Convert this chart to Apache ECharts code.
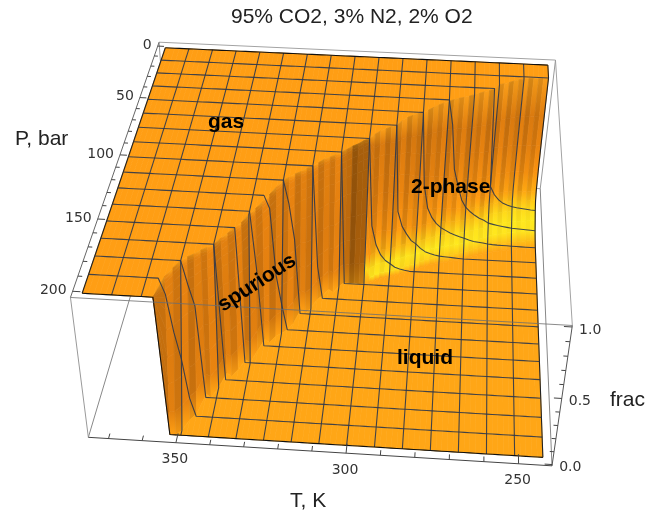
<!DOCTYPE html>
<html><head><meta charset="utf-8">
<style>html,body{margin:0;padding:0;background:#fff}#c{width:657px;height:512px}</style>
<script src="https://cdn.jsdelivr.net/npm/echarts@6/dist/echarts.min.js"></script>
</head><body><div id="c"></div>
<script>
const titleText='95% CO2, 3% N2, 2% O2';
const tFirst=243, tStep=1.63;
// upper (dew) and lower (bubble) pressure of the step, bar, one per temperature column
const dewP=[12.5,12.8,13.2,13.6,14,14.5,15.5,17,18.5,20,
21,25.5,27,28.5,30,31.5,33,34.5,35.5,37,
38.5,40.5,42.5,45,47.5,50,51,53,55,58,
62.5,64,66,68,71,75,77,80,82,85,
87.5,90,92,94,97,100,102,105,107,110,
112.5,118,124,130,135,140,146,150,154,158,
162.5,165,167,170,172,175,180,186,200,200,
200,200,200,200,200,200,200,200,200,200,200];
const bubP=[50,50.5,51,51.5,52,52.5,53.5,54,54.5,55.5,
56.5,57.5,58.5,59.5,61,62.5,63.5,64.5,65.5,66.5,
67,68,69,70.5,72,74,75,76.5,78,79,
80,81,82,84,86,87,87.5,87,87.5,87,
90,95,93,98,101,108,112,110,120,125,
128,130,135,133,141,150,148,155,160,158,
168,175,173,186,190,197,200,200,200,200,
200,200,200,200,200,200,200,200,200,200,200];
// wall brightness of the dark band near 300-305 K, one factor per listed column
const wallDimCols=[35,36,37,38], wallDimBy=[.85,.72,.72,.85];
// repeating brightness of the fine ripples on the wall
const ripple=[1.05,.93,1.02,.9];
// vapour fraction across the two-phase span: position, frac at the cold end, frac at the warm end
const spanPos=[0,.02,.04,.08,.13,.2,.33,.5,.67,.85,1];
const spanFracCold=[1,.72,.5,.3,.16,.105,.07,.045,.02,.006,0];
const spanFracWarm=[1,.9,.82,.68,.55,.42,.28,.15,.07,.02,0];
const spanColdT=243, spanWarmT=295;
const spuriousFromT=299;
const meshEvery=5;
const meshP=[0,12.5,25,37.5,50,62.5,75,87.5,100,112.5,125,137.5,150,162.5,175,187.5,200];
const pMajor=[0,50,100,150,200], pMinor=[10,20,30,40,60,70,80,90,110,120,130,140,160,170,180,190];
const tMajor=[250,300,350], tMinor=[260,270,280,290,310,320,330,340,360,370];
const fMajor=[0,.5,1], fMinor=[.1,.2,.3,.4,.6,.7,.8,.9];
// box ranges
const boxT=[376,240.4], boxP=[-4,204], boxF=[-.01,1.01];
// camera calibration: box corner (X,Y,Z) -> picture pixel
const calib=[[0,0,1,160,43],[1,0,1,556,60],[0,1,1,69,297],[1,1,1,572,325],
[0,1,0,90,438],[1,1,0,552,466],[1,0,0,540,189],[0,0,0,167,169]];
// surface colour against frac
const gasColor=[255,158,20], liquidColor=[255,166,22];
const phaseColors=[[1,[238,150,24]],[.95,[206,116,15]],[.5,[222,125,15]],[.2,[246,148,16]],[.12,[254,185,20]],[.08,[255,215,26]],[.045,[255,232,30]],[.02,[255,228,30]],[.006,[255,192,24]],[0,[255,166,22]]];
const wallColors=[[1,[242,152,22]],[.97,[222,126,16]],[.5,[218,122,15]],[.03,[224,128,16]],[0,[252,158,20]]];

function solveCamera(){
  const n=11,A=Array.from({length:n},()=>new Array(n+1).fill(0));
  const add=(r,b)=>{for(let a=0;a<n;a++){for(let c=0;c<n;c++)A[a][c]+=r[a]*r[c];A[a][n]+=r[a]*b;}};
  calib.forEach(([X,Y,Z,u,v])=>{
    add([X,Y,Z,1,0,0,0,0,-u*X,-u*Y,-u*Z],u);
    add([0,0,0,0,X,Y,Z,1,-v*X,-v*Y,-v*Z],v);
  });
  for(let i=0;i<n;i++){
    let m=i;for(let r=i+1;r<n;r++)if(Math.abs(A[r][i])>Math.abs(A[m][i]))m=r;
    [A[i],A[m]]=[A[m],A[i]];
    for(let r=0;r<n;r++){if(r===i)continue;const f=A[r][i]/A[i][i];for(let c=i;c<=n;c++)A[r][c]-=f*A[i][c];}
  }
  return A.map((row,i)=>row[n]/row[i]);
}
const cam=solveCamera();
const norm=(T,P,f)=>[(boxT[0]-T)/(boxT[0]-boxT[1]),(P-boxP[0])/(boxP[1]-boxP[0]),(f-boxF[0])/(boxF[1]-boxF[0])];
function projN(X,Y,Z){const w=cam[8]*X+cam[9]*Y+cam[10]*Z+1;
  return [(cam[0]*X+cam[1]*Y+cam[2]*Z+cam[3])/w,(cam[4]*X+cam[5]*Y+cam[6]*Z+cam[7])/w];}
const proj=(T,P,f)=>{const n=norm(T,P,f);return projN(n[0],n[1],n[2]);};

const colT=i=>tFirst+i*tStep;
const nCols=dewP.length;
const cummax=a=>{let m=-1;return a.map(v=>(m=Math.max(m,v)));};
const dewM=cummax(dewP), bubM=cummax(bubP);
function columnKnots(i,teeth){
  const d=dewM[i],b=bubM[i],T=colT(i);
  if(d>=200)return [[0,1]].concat(spanPos.map(()=>[200,1]),[[200,1]]);
  const sp=T>=spuriousFromT;
  const td=teeth?dewP[i]-d:0,tb=teeth?bubP[i]-b:0;
  let wm=Math.min(1,(T-spanColdT)/(spanWarmT-spanColdT));wm*=wm;
  return [[0,1]].concat(spanPos.map((s,k)=>{
    const w=sp?1-s:Math.max(0,1-s/.2);
    const fr=spanFracCold[k]+(spanFracWarm[k]-spanFracCold[k])*wm;
    return [d+s*(b-d)+td*w+tb*s,sp?1-s:fr];
  }),[[200,0]]);
}
const knots=dewP.map((_,i)=>columnKnots(i,true));
const smooth=dewP.map((_,i)=>columnKnots(i,false));
const K=knots[0].length;
function fracAt(i,P){
  const q=smooth[i];
  for(let k=0;k<q.length-1;k++){
    if(P<=q[k+1][0]){const a=q[k],b=q[k+1];const w=b[0]>a[0]?(P-a[0])/(b[0]-a[0]):1;return a[1]+(b[1]-a[1])*w;}
  }
  return q[q.length-1][1];
}
function colorFor(f,table){
  for(let r=0;r<table.length-1;r++){
    if(f>=table[r+1][0]){const w=(table[r][0]-f)/(table[r][0]-table[r+1][0]);
      return table[r][1].map((v,j)=>v+(table[r+1][1][j]-v)*w);}
  }
  return table[table.length-1][1];
}
const css=(c,m)=>`rgb(${Math.min(255,c[0]*m)|0},${Math.min(255,c[1]*m)|0},${Math.min(255,c[2]*m)|0})`;
// quads, back to front
const quads=[];
for(let k=0;k<K-1;k++)for(let i=nCols-2;i>=0;i--){
  const T0=colT(i),T1=colT(i+1),a=knots[i],b=knots[i+1];
  const pts=[[T0,a[k][0],a[k][1]],[T1,b[k][0],b[k][1]],[T1,b[k+1][0],b[k+1][1]],[T0,a[k+1][0],a[k+1][1]]];
  const fTop=(a[k][1]+b[k][1])/2,fBot=(a[k+1][1]+b[k+1][1])/2;
  const table=T0>=spuriousFromT?wallColors:phaseColors;
  let cTop,cBot,m=1;
  if(fTop===1&&fBot===1){cTop=cBot=gasColor;}
  else if(fTop===0&&fBot===0){cTop=cBot=liquidColor;}
  else{cTop=colorFor(fTop,table);cBot=colorFor(fBot,table);
    const fade=Math.min(1,(fTop+.02)*4);
    m=1+(ripple[i%ripple.length]-1)*fade;
    const dimAt=wallDimCols.indexOf(i);if(dimAt>=0&&fTop>.02)m*=wallDimBy[dimAt];}
  quads.push({pts,top:css(cTop,m),bot:css(cBot,m)});
}
// mesh lines
const mesh=[];
for(let i=0;i<nCols;i+=meshEvery){
  const edge=i===0||i===nCols-1;
  mesh.push({pts:smooth[i].map(q=>[colT(i),q[0],q[1]]),c:edge?'#222':'rgba(45,55,75,.9)',w:1.1});
}
meshP.forEach((P,j)=>{
  const edge=j===0||j===meshP.length-1;
  const pts=[];for(let i=0;i<nCols;i++)pts.push([colT(i),P,fracAt(i,P)]);
  mesh.push({pts,c:edge?'#111':'rgba(45,55,75,.9)',w:1.1});
});
// box
const axisC='#555';
const nb=(a,b,c='#a3a3a3',w=1)=>({a,b,c,w});
const backBox=[nb([0,0,1],[1,0,1]),nb([1,0,1],[1,1,1]),nb([0,0,1],[0,0,0],'#999'),nb([1,0,1],[1,0,0],'#999'),
nb([0,0,0],[1,0,0],'#999'),nb([0,0,0],[0,1,0],'#888'),nb([1,0,0],[1,1,0],'#888'),nb([0,1,1],[0,1,0],'#999')];
const frontBox=[nb([0,1,1],[1,1,1],'rgba(110,110,110,.8)'),nb([1,1,1],[1,1,0],axisC),nb([0,1,0],[1,1,0],'#444'),nb([0,1,1],[0,0,1],'#666')];
const ticks=[];
const tick=(a,b)=>ticks.push(nb(a,b,'#444'));
pMajor.forEach(P=>{const y=norm(0,P,0)[1];tick([0,y,1],[.016,y,1]);});
pMinor.forEach(P=>{const y=norm(0,P,0)[1];tick([0,y,1],[.009,y,1]);});
tMajor.forEach(T=>{const x=norm(T,0,0)[0];tick([x,1,0],[x,.972,0]);});
tMinor.forEach(T=>{const x=norm(T,0,0)[0];tick([x,1,0],[x,.985,0]);});
fMajor.forEach(f=>{const z=norm(0,0,f)[2];tick([1,1,z],[.984,1,z]);});
fMinor.forEach(f=>{const z=norm(0,0,f)[2];tick([1,1,z],[.991,1,z]);});

const tickFont='14px "DejaVu Sans"',tickColor='#333';
const labels=[];
pMajor.forEach(P=>{const y=norm(0,P,0)[1];const p=projN(0,y,1);labels.push({x:p[0]-6,y:p[1]-1,t:String(P),a:'right'});});
tMajor.forEach(T=>{const x=norm(T,0,0)[0];const p=projN(x,1,0);labels.push({x:p[0]-1,y:p[1]+17,t:String(T),a:'center'});});
fMajor.forEach(f=>{const z=norm(0,0,f)[2];const p=projN(1,1,z);labels.push({x:p[0]+7,y:p[1]+3,t:f.toFixed(1),a:'left'});});

const lineItem=(toPts,st)=>(params,api)=>{
  const it=st[params.dataIndex];
  const pts=toPts(it).map(p=>api.coord(p));
  return {type:'polyline',silent:true,shape:{points:pts},style:{stroke:it.c,lineWidth:it.w,fill:null,lineJoin:'round'}};
};
const segSeries=(arr,z)=>({type:'custom',coordinateSystem:'cartesian2d',silent:true,z,animation:false,clip:false,
  data:arr.map((_,i)=>[i]),renderItem:lineItem(s=>[projN(...s.a),projN(...s.b)],arr)});

const chart=echarts.init(document.getElementById('c'),null,{renderer:'canvas'});
chart.setOption({
  animation:false,
  title:{text:titleText,left:226,top:2,textStyle:{fontFamily:'Liberation Sans',fontSize:21,fontWeight:'normal',color:'#222'}},
  grid:{left:0,top:0,width:657,height:512,show:false},
  xAxis:{type:'value',min:0,max:657,show:false},
  yAxis:{type:'value',min:0,max:512,inverse:true,show:false},
  series:[
    segSeries(backBox,1),
    {type:'custom',coordinateSystem:'cartesian2d',silent:true,z:2,animation:false,clip:false,
     data:quads.map((_,i)=>[i]),
     renderItem(params,api){const q=quads[params.dataIndex];
       const P=q.pts.map(p=>api.coord(proj(p[0],p[1],p[2])));
       const x1=(P[0][0]+P[1][0])/2,y1=(P[0][1]+P[1][1])/2,x2=(P[2][0]+P[3][0])/2,y2=(P[2][1]+P[3][1])/2;
       const grad=new echarts.graphic.LinearGradient(x1,y1,x2,y2,[{offset:0,color:q.top},{offset:1,color:q.bot}],true);
       return {type:'polygon',silent:true,shape:{points:P},style:{fill:grad,stroke:grad,lineWidth:.7}};}},
    {type:'custom',coordinateSystem:'cartesian2d',silent:true,z:3,animation:false,clip:false,
     data:mesh.map((_,i)=>[i]),
     renderItem:lineItem(m=>m.pts.map(p=>proj(p[0],p[1],p[2])),mesh)},
    segSeries(frontBox,4),
    segSeries(ticks,4),
    {type:'custom',coordinateSystem:'cartesian2d',silent:true,z:5,animation:false,clip:false,
     data:labels.map((_,i)=>[i]),
     renderItem(params,api){const l=labels[params.dataIndex];const p=api.coord([l.x,l.y]);
       return {type:'text',silent:true,style:{x:p[0],y:p[1],text:l.t,font:tickFont,fill:tickColor,textAlign:l.a,textVerticalAlign:'middle'}};}}
  ],
  graphic:[
    {type:'text',z:10,silent:true,left:15,top:129,style:{text:'P, bar',font:'21px "Liberation Sans"',fill:'#222'}},
    {type:'text',z:10,silent:true,left:290,top:491,style:{text:'T, K',font:'21px "Liberation Sans"',fill:'#222'}},
    {type:'text',z:10,silent:true,left:610,top:390,style:{text:'frac',font:'21px "Liberation Sans"',fill:'#222'}},
    {type:'text',z:10,silent:true,left:208,top:112,style:{text:'gas',font:'bold 21px "Liberation Sans"',fill:'#000'}},
    {type:'text',z:10,silent:true,left:411,top:177,style:{text:'2-phase',font:'bold 21px "Liberation Sans"',fill:'#000'}},
    {type:'text',z:10,silent:true,left:397,top:348,style:{text:'liquid',font:'bold 21px "Liberation Sans"',fill:'#000'}},
    {type:'text',z:10,silent:true,x:257,y:283,rotation:33*Math.PI/180,style:{text:'spurious',font:'bold 21px "Liberation Sans"',fill:'#000',textAlign:'center',textVerticalAlign:'middle'}}
  ]
});
</script></body></html>
